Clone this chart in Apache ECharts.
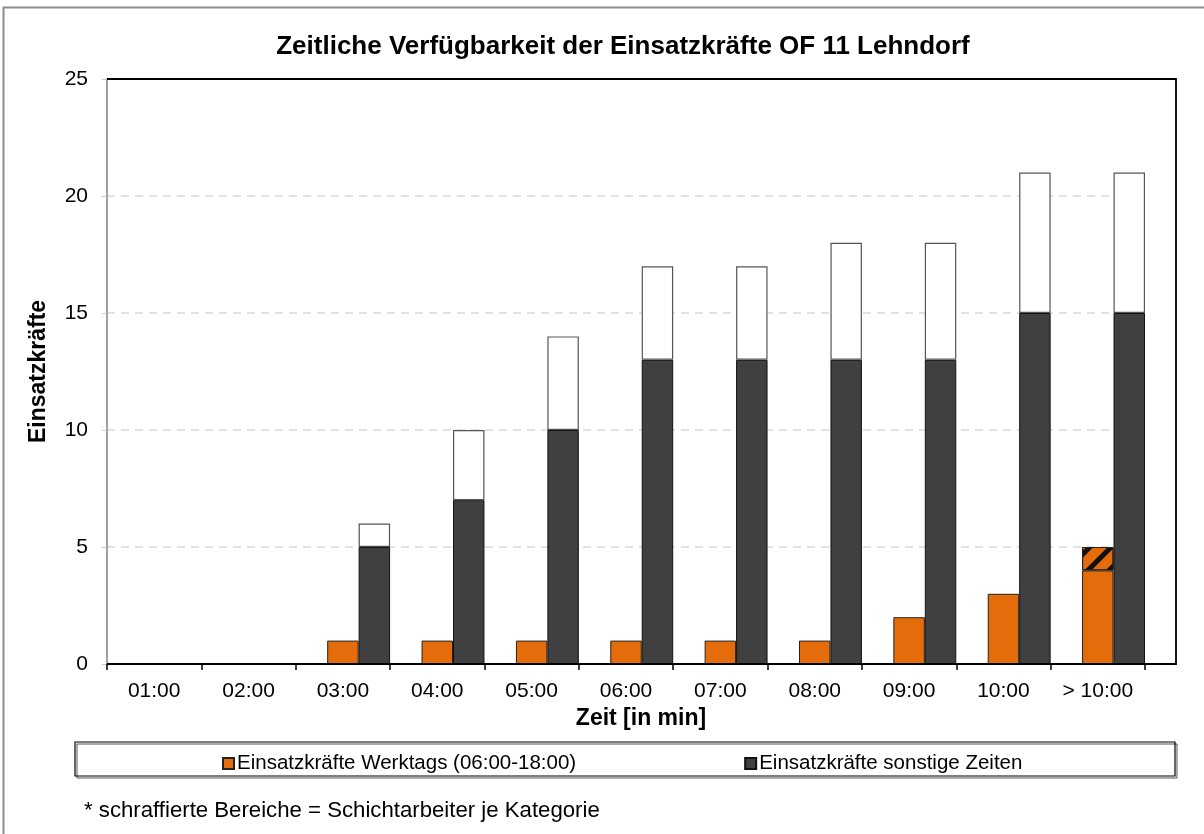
<!DOCTYPE html>
<html>
<head>
<meta charset="utf-8">
<script src="https://cdn.jsdelivr.net/npm/echarts@6/dist/echarts.min.js"></script>
<style>
  html, body { margin: 0; padding: 0; background: #fff; }
  #chart { width: 1204px; height: 834px; }
</style>
</head>
<body>
<div id="chart"></div>
<script>
// Kategorien (Zeit in min)
var categories = ['01:00', '02:00', '03:00', '04:00', '05:00', '06:00', '07:00', '08:00', '09:00', '10:00', '> 10:00'];
// Werktags (06:00-18:00), davon schraffiert = Schichtarbeiter
var werktags = [0, 0, 1, 1, 1, 1, 1, 1, 2, 3, 4];
var werktagsSchicht = [0, 0, 0, 0, 0, 0, 0, 0, 0, 0, 1];
// sonstige Zeiten, weisser Aufsatz
var sonstige = [0, 0, 5, 7, 10, 13, 13, 13, 13, 15, 15];
var sonstigeRest = [0, 0, 1, 3, 4, 4, 4, 5, 5, 6, 6];
var yTicks = [0, 5, 10, 15, 20, 25];

var FONT = '"Liberation Sans", Arial, sans-serif';
var nameW = 'Einsatzkräfte Werktags (06:00-18:00)';
var nameS = 'Einsatzkräfte sonstige Zeiten';

function nz(arr) {
    return arr.map(function (v) { return v === 0 ? null : v; });
}

var chart = echarts.init(document.getElementById('chart'));

var option = {
    animation: false,
    backgroundColor: '#fff',
    textStyle: { fontFamily: FONT, color: '#000' },
    title: {
        text: 'Zeitliche Verfügbarkeit der Einsatzkräfte OF 11 Lehndorf',
        left: 618,
        textAlign: 'center',
        top: 29,
        textStyle: { fontFamily: FONT, fontSize: 26, fontWeight: 'bold', color: '#000' }
    },
    legend: {
        data: [nameW, nameS],
        left: 217,
        top: 748,
        itemWidth: 11,
        itemHeight: 11,
        itemGap: 168,
        icon: 'rect',
        textStyle: { fontFamily: FONT, fontSize: 20.5, color: '#000', padding: [0, 0, 0, -2] }
    },
    grid: {
        left: 107,
        right: 59,
        top: 79,
        bottom: 170,
        containLabel: false
    },
    xAxis: {
        type: 'category',
        data: categories,
        name: 'Zeit [in min]',
        nameLocation: 'middle',
        nameGap: 42,
        nameTextStyle: { fontFamily: FONT, fontSize: 23, fontWeight: 'bold', color: '#000', padding: [0, 0, 0, 30] },
        axisLine: { show: false },
        axisTick: { show: true, length: 6, lineStyle: { color: '#000', width: 1.5 } },
        axisLabel: { fontFamily: FONT, fontSize: 21, color: '#000', margin: 17 },
        splitLine: { show: false }
    },
    yAxis: {
        type: 'value',
        min: 0,
        max: 25,
        interval: 5,
        name: 'Einsatzkräfte',
        nameLocation: 'middle',
        nameGap: 57,
        nameRotate: 90,
        nameTextStyle: { fontFamily: FONT, fontSize: 23, fontWeight: 'bold', color: '#000' },
        axisLine: { show: true, lineStyle: { color: '#808080', width: 1.5 } },
        axisTick: { show: true, length: 5, lineStyle: { color: '#c8c8c8' } },
        axisLabel: {
            fontFamily: FONT, fontSize: 21, color: '#000', margin: 19,
            formatter: function (v) { return yTicks.indexOf(v) >= 0 ? String(v) : ''; }
        },
        splitLine: { show: true, lineStyle: { color: '#d9d9d9', width: 1.5, type: [8, 6] } }
    },
    graphic: [
        {
            type: 'rect',
            shape: { x: 3.5, y: 7.5, width: 1215, height: 845 },
            style: { fill: 'none', stroke: '#8c8c8c', lineWidth: 2 },
            silent: true
        },
        {
            type: 'polyline',
            shape: { points: [[107, 664], [1176, 664], [1176, 79], [107, 79]] },
            style: { fill: 'none', stroke: '#000', lineWidth: 1.8 },
            z: 10,
            silent: true
        },
        {
            type: 'rect',
            shape: { x: 77, y: 744, width: 1100, height: 34 },
            style: { fill: 'none', stroke: '#555', lineWidth: 1 },
            silent: true
        },
        {
            type: 'rect',
            shape: { x: 75, y: 742, width: 1100, height: 34 },
            style: { fill: 'none', stroke: '#000', lineWidth: 1.2 },
            silent: true
        },
        {
            type: 'text',
            left: 84,
            top: 800,
            style: {
                text: '* schraffierte Bereiche = Schichtarbeiter je Kategorie',
                fontFamily: FONT, fontSize: 22.2, fill: '#000'
            },
            silent: true
        }
    ],
    series: [
        {
            name: 'pad',
            type: 'bar',
            stack: 'p',
            data: categories.map(function () { return null; }),
            barCategoryGap: '0%',
            barGap: '0%',
            silent: true
        },
        {
            name: nameW,
            type: 'bar',
            stack: 'a',
            data: nz(werktags),
            barGap: '0%',
            itemStyle: { color: '#E46C0A', borderColor: '#222', borderWidth: 1 }
        },
        {
            name: nameW + ' Schicht',
            type: 'bar',
            stack: 'a',
            data: nz(werktagsSchicht),
            barGap: '0%',
            itemStyle: {
                color: '#E46C0A', borderColor: '#222', borderWidth: 1,
                decal: {
                    symbol: 'rect',
                    symbolSize: 1,
                    color: '#111',
                    dashArrayX: [1, 0],
                    dashArrayY: [5, 10],
                    rotation: -Math.PI / 4
                }
            }
        },
        {
            name: nameS,
            type: 'bar',
            stack: 'b',
            data: nz(sonstige),
            barGap: '0%',
            itemStyle: { color: '#404040', borderColor: '#111', borderWidth: 1 }
        },
        {
            name: nameS + ' Rest',
            type: 'bar',
            stack: 'b',
            data: nz(sonstigeRest),
            barGap: '0%',
            itemStyle: { color: '#fff', borderColor: '#555', borderWidth: 1.2 }
        }
    ]
};

chart.setOption(option);
</script>
</body>
</html>
